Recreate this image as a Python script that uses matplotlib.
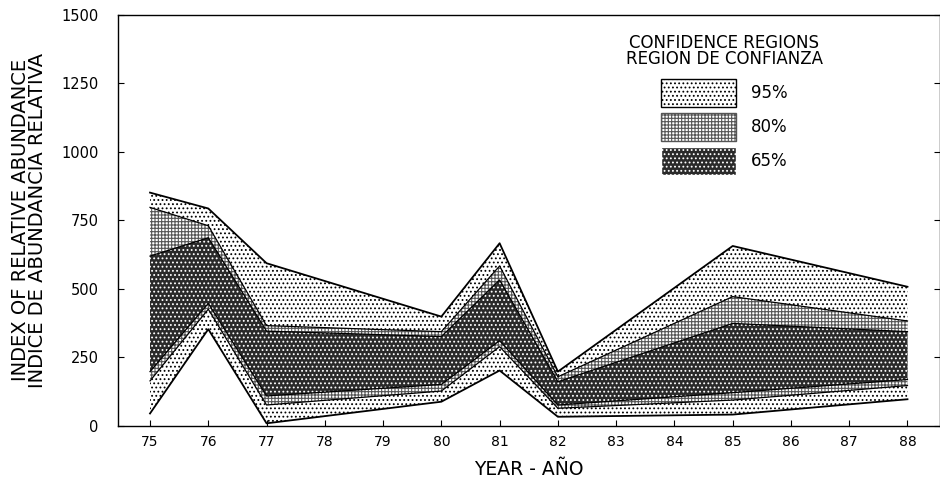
import matplotlib
matplotlib.use("Agg")
import matplotlib.pyplot as plt
from matplotlib.patches import Patch

years = [75, 76, 77, 80, 81, 82, 85, 88]
up95 = [851, 793, 593, 398, 666, 197, 656, 507]
up80 = [797, 730, 365, 343, 583, 178, 471, 382]
up65 = [619, 686, 345, 325, 532, 160, 373, 343]
lo65 = [197, 446, 108, 150, 310, 75, 120, 168]
lo80 = [163, 425, 75, 126, 288, 63, 93, 146]
lo95 = [44, 352, 8, 87, 201, 32, 40, 96]

year_ticks = list(range(75, 89))
y_ticks = [0, 250, 500, 750, 1000, 1250, 1500]
levels = ["95%", "80%", "65%"]

plt.rcParams["font.family"] = ["DejaVu Sans"]
plt.rcParams["hatch.linewidth"] = 0.8

fig = plt.figure(figsize=(9.4, 4.83), dpi=100)
ax = fig.add_axes([0.1255, 0.119, 0.874, 0.85])

styles = {
    "95%": dict(facecolor="white", edgecolor="black", hatch="...."),
    "80%": dict(facecolor="white", edgecolor="#555555", hatch="+++++"),
    "65%": dict(facecolor="#2a2a2a", edgecolor="white", hatch="...."),
}

ax.fill_between(years, lo95, up95, linewidth=0, **styles["95%"])
ax.fill_between(years, lo80, up80, linewidth=0, **styles["80%"])
ax.fill_between(years, lo65, up65, linewidth=0, **styles["65%"])

ax.plot(years, up95, color="black", lw=1.3)
ax.plot(years, lo95, color="black", lw=1.3)
ax.plot(years, up80, color="black", lw=0.9)
ax.plot(years, lo80, color="black", lw=0.9)
ax.plot(years, up65, color="black", lw=0.9)
ax.plot(years, lo65, color="black", lw=0.9)

ax.set_xlim(74.45, 88.55)
ax.set_ylim(0, 1500)
ax.set_xticks(year_ticks)
ax.set_yticks(y_ticks)
ax.tick_params(direction="in", length=4, labelsize=10.5, right=True)
ax.tick_params(axis="x", pad=7, labelsize=10)
ax.tick_params(axis="y", pad=14)
for s in ax.spines.values():
    s.set_linewidth(1.0)

ax.set_xlabel("YEAR - AÑO", fontsize=13.5, labelpad=8)
ax.set_ylabel("INDEX OF RELATIVE ABUNDANCE\nINDICE DE ABUNDANCIA RELATIVA",
              fontsize=14, labelpad=10, linespacing=0.9)

handles = [Patch(linewidth=1, **styles[k]) for k in levels]
leg = ax.legend(handles, levels, title="CONFIDENCE REGIONS\nREGION DE CONFIANZA",
                loc="upper left", bbox_to_anchor=(0.6, 0.99), frameon=False,
                fontsize=12, title_fontsize=12, handlelength=4.5, handleheight=2.2,
                labelspacing=0.36, handletextpad=0.9)
leg.get_title().set_multialignment("center")
leg.get_title().set_linespacing(0.85)
leg._legend_box.align = "center"
leg._legend_box.sep = 8

fig.savefig("out.png", dpi=100)
